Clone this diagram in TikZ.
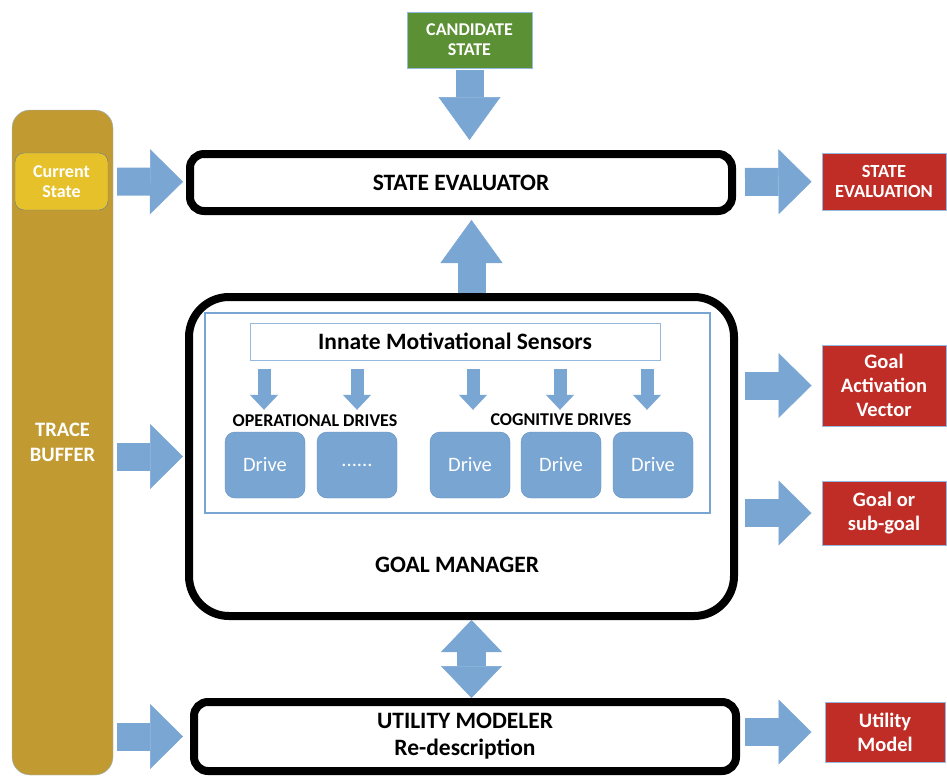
\documentclass[tikz,border=0pt]{standalone}
\usepackage{fontspec}
\setmainfont{Carlito}
\usetikzlibrary{arrows.meta, positioning, calc}

\definecolor{arrowblue}{RGB}{122,166,212}
\definecolor{driveblue}{RGB}{120,165,210}
\definecolor{driveedge}{RGB}{98,143,192}
\definecolor{paleblue}{RGB}{150,186,222}
\definecolor{tracegold}{RGB}{193,155,50}
\definecolor{curyellow}{RGB}{231,193,42}
\definecolor{curedge}{RGB}{95,125,155}
\definecolor{candgreen}{RGB}{92,144,52}
\definecolor{outred}{RGB}{192,44,38}

\tikzset{
  module/.style = {rectangle, draw=black, line width=8pt, fill=white,
    rounded corners=14pt, align=center,
    font=\bfseries\fontsize{23.5}{27}\selectfont},
  outbox/.style = {rectangle, fill=outred, draw=paleblue, line width=1pt,
    text=white, align=center, minimum width=124pt,
    font=\bfseries\fontsize{20.5}{24}\selectfont},
  drive/.style = {rectangle, rounded corners=10pt, fill=driveblue,
    draw=driveedge, text=white, minimum width=80pt, minimum height=66pt,
    font=\fontsize{20.5}{22}\selectfont},
  drivelabel/.style = {font=\bfseries\fontsize{18}{20}\selectfont},
  fat/.style = {draw=arrowblue, line width=28pt,
    -{Triangle[length=33pt, width=65pt, line width=0.5pt, fill=arrowblue]}},
  fatv/.style = {draw=arrowblue, line width=28pt,
    -{Triangle[length=43pt, width=62pt, line width=0.5pt, fill=arrowblue]}},
  fatboth/.style = {draw=arrowblue, line width=29pt,
    {Triangle[length=32pt, width=61pt, line width=0.5pt, fill=arrowblue]}-{Triangle[length=32pt, width=61pt, line width=0.5pt, fill=arrowblue]}},
  slim/.style = {draw=arrowblue, line width=13pt,
    -{Triangle[length=15pt, width=28pt, line width=0.5pt, fill=arrowblue]}}
}

\begin{document}
\begin{tikzpicture}[x=1pt, y=-1pt]
\useasboundingbox (0,0) rectangle (947,776);

% inputs on the left and top
\node [rectangle, rounded corners=18pt, fill=tracegold, draw=paleblue,
  minimum width=101pt, minimum height=665pt, text=white, align=center,
  font=\bfseries\fontsize{20.5}{25}\selectfont] (tb) at (62.5,442.5) {TRACE\\BUFFER};
\node [rectangle, rounded corners=9pt, fill=curyellow, draw=curedge,
  minimum width=93pt, minimum height=57pt, text=white, align=center,
  font=\bfseries\fontsize{18}{20}\selectfont] (cur) at (61.5,181.5) {Current\\State};
\node [rectangle, fill=candgreen, draw=paleblue, minimum width=125pt,
  minimum height=56pt, text=white, align=center,
  font=\bfseries\fontsize{18}{20}\selectfont] (cand) at (469.5,40) {CANDIDATE\\STATE};

% the three modules
\node [module, minimum width=542pt, minimum height=57pt] (se) at (461,182.5) {STATE EVALUATOR};
\node [module, rounded corners=40pt, minimum width=545pt, minimum height=319pt] (gm) at (461.5,456.5) {};
\node [module, minimum width=542pt, minimum height=69pt] (um) at (465,736.5) {UTILITY MODELER\\Re-description};
\node [font=\bfseries\fontsize{23.5}{27}\selectfont] (gm-title) at (457,565) {GOAL MANAGER};

% drives inside the goal manager
\node [rectangle, draw=driveblue, line width=1.5pt, minimum width=505pt,
  minimum height=200pt] (drivearea) at (457.5,413) {};
\node [rectangle, fill=white, draw=paleblue, line width=1pt, minimum width=410pt,
  minimum height=37pt, font=\bfseries\fontsize{23.5}{26}\selectfont] (ims) at (455,341.5) {Innate Motivational Sensors};
\node [drive] (d1) at (265,465) {Drive};
\node [drive] (d2) at (357,465) {......};
\node [drive] (d3) at (470,465) {Drive};
\node [drive] (d4) at (561,465) {Drive};
\node [drive] (d5) at (653,465) {Drive};
\node [drivelabel] (opdrives) at (315,421) {OPERATIONAL DRIVES};
\node [drivelabel] (cogdrives) at (561,420) {COGNITIVE DRIVES};

% outputs on the right
\node [outbox, minimum height=57pt, font=\bfseries\fontsize{18.5}{20}\selectfont] (seo) at (884,181.5) {STATE\\EVALUATION};
\node [outbox, minimum height=81pt] (gav) at (884,385.5) {Goal\\Activation\\Vector};
\node [outbox, minimum height=64pt] (gsg) at (884,513) {Goal or\\sub-goal};
\node [outbox, minimum width=120pt, minimum height=60pt] (umo) at (885,732) {Utility\\Model};

% block arrows
\draw [fat, shorten <=9pt, shorten >=3pt] (cur) -- (se);
\draw [fat, shorten <=4pt, shorten >=2pt] (tb.east |- gm) -- (gm);
\draw [fat, shorten <=4pt, shorten >=7pt] (tb.east |- um) -- (um);
\draw [fatv, shorten <=2pt, shorten >=10pt] (cand) -- (cand |- se.north);
\draw [fatv, shorten >=5pt] ([xshift=10pt]gm.north) -- ([xshift=10pt]gm.north |- se.south);
\draw [fatboth] ([xshift=10pt]gm.south) -- ([xshift=10pt]gm.south |- um.north);
\draw [fat, shorten <=9pt, shorten >=10pt] (se) -- (seo);
\draw [fat, shorten <=7pt, shorten >=10pt] (gm.east |- gav) -- (gav);
\draw [fat, shorten <=7pt, shorten >=10pt] (gm.east |- gsg) -- (gsg);
\draw [fat, shorten <=5pt, shorten >=13pt] (um.east |- umo) -- (umo);
\foreach \d/\s in {d1/-1, d2/0, d3/3, d4/-1, d5/-6}
  \draw [slim, shorten <=8pt, shorten >=22pt] ([xshift=\s pt]\d.north |- ims.south) -- ([xshift=\s pt]\d.north);
\end{tikzpicture}
\end{document}
